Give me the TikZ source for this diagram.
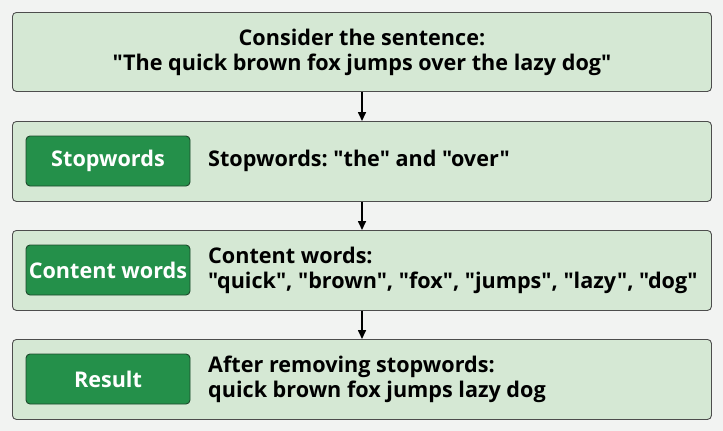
\documentclass[tikz,border=0pt]{standalone}
\usepackage{fontspec}
\newfontfamily\nsb{Open Sans}
\usetikzlibrary{arrows.meta}
\frenchspacing
\definecolor{bgc}{HTML}{F2F3F2}
\definecolor{outerfill}{HTML}{D5E8D4}
\definecolor{outerline}{HTML}{4D4D4D}
\definecolor{innerfill}{HTML}{24904A}
\definecolor{innerline}{HTML}{1E4A2C}
\begin{document}
\begin{tikzpicture}[x=1pt,y=-1pt,
  outerbox/.style={draw=outerline,fill=outerfill,rounded corners=4pt,line width=0.9pt},
  innerbox/.style={draw=innerline,fill=innerfill,rounded corners=4pt,line width=0.9pt,
    minimum width=164pt,minimum height=50pt,inner sep=0pt,text=white,
    font=\nsb\bfseries\frenchspacing\fontsize{21.6}{25}\selectfont},
  txt/.style={font=\nsb\bfseries\frenchspacing\fontsize{21.6}{25}\selectfont,inner sep=0pt,align=left,anchor=west},
  arr/.style={-{Triangle[width=8pt,length=9pt]},line width=1.6pt}]
\fill[bgc] (0,0) rectangle (723,431);
\node[outerbox,minimum width=699pt,minimum height=79pt,inner sep=0pt,anchor=north west,
  font=\nsb\bfseries\frenchspacing\fontsize{21.6}{25}\selectfont,align=center] (b1) at (12,12)
  {Consider the sentence:\\"The quick brown fox jumps over the lazy dog"};
\node[outerbox,minimum width=699pt,minimum height=80pt,anchor=north west] (b2) at (12,121) {};
\node[outerbox,minimum width=699pt,minimum height=80pt,anchor=north west] (b3) at (12,230) {};
\node[outerbox,minimum width=699pt,minimum height=80pt,anchor=north west] (b4) at (12,339) {};
\node[innerbox] (i2) at (108,161) {Stopwords};
\node[innerbox] (i3) at (108,270) {Content words};
\node[innerbox] (i4) at (108,379) {Result};
\node[txt] (t2) at (208,161) {Stopwords: "the" and "over"};
\node[txt] (t3) at (208,270) {Content words:\\"quick", "brown", "fox", "jumps", "lazy", "dog"};
\node[txt] (t4) at (208,379) {After removing stopwords:\\quick brown fox jumps lazy dog};
\draw[arr] (b1.south -| 362,0) -- (b2.north -| 362,0);
\draw[arr] (b2.south -| 362,0) -- (b3.north -| 362,0);
\draw[arr] (b3.south -| 362,0) -- (b4.north -| 362,0);
\end{tikzpicture}
\end{document}
